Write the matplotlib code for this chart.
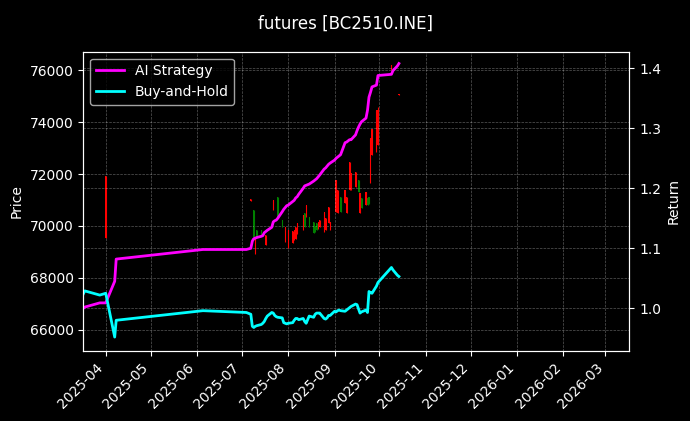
import matplotlib
matplotlib.use("Agg")
import matplotlib.pyplot as plt
import matplotlib.dates as mdates
import numpy as np
import pandas as pd

# candlestick data (price axis)
candle_dates = ["2025-04-01", "2025-07-07", "2025-07-09", "2025-07-10", "2025-07-11",
                "2025-07-14", "2025-07-17", "2025-07-22", "2025-07-25", "2025-07-28",
                "2025-07-30", "2025-08-01", "2025-08-04", "2025-08-05", "2025-08-06",
                "2025-08-07", "2025-08-11", "2025-08-12", "2025-08-13", "2025-08-15",
                "2025-08-18", "2025-08-19", "2025-08-20", "2025-08-21", "2025-08-22",
                "2025-08-25", "2025-08-26", "2025-08-28", "2025-08-29", "2025-09-02",
                "2025-09-03", "2025-09-05", "2025-09-08", "2025-09-09", "2025-09-11",
                "2025-09-12", "2025-09-15", "2025-09-17", "2025-09-18", "2025-09-19",
                "2025-09-22", "2025-09-23", "2025-09-24", "2025-09-25", "2025-09-26",
                "2025-09-29", "2025-09-30", "2025-10-09", "2025-10-14"]
opens = [69530, 70980, 70615, 68920, 69850,
         69850, 69270, 70615, 71130, 70230,
         69400, 69140, 69350, 69450, 69500,
         69700, 69850, 70490, 70360, 70360,
         70170, 70000, 70100, 69900, 69970,
         69780, 69850, 70100, 69850, 70550,
         70490, 71130, 70880, 70490, 71380,
         71380, 71500, 71770, 70490, 71060,
         70810, 71060, 71100, 71650, 72730,
         72850, 73110, 76000, 75030]
closes = [71920, 71030, 69590, 69590, 69590,
          69600, 69650, 71000, 70300, 69970,
          69970, 69850, 69800, 69850, 69950,
          70100, 70420, 69970, 70810, 69970,
          69720, 69750, 69850, 70150, 70230,
          70550, 70300, 70740, 70170, 71770,
          71380, 70550, 71380, 71130, 72470,
          72020, 72090, 71320, 71260, 70680,
          71320, 70810, 70850, 73380, 73750,
          74460, 74460, 76200, 75070]
highs = [71920, 71030, 70615, 69590, 69850,
         69850, 69650, 71000, 71130, 70230,
         69970, 69850, 69800, 69850, 69950,
         70100, 70420, 70490, 70810, 70360,
         70170, 70000, 70100, 70150, 70230,
         70550, 70300, 70740, 70170, 71770,
         71380, 71130, 71380, 71130, 72470,
         72020, 72090, 71770, 71260, 71060,
         71320, 71060, 71100, 73380, 73750,
         74460, 74560, 76200, 75070]
lows = [69530, 70980, 69590, 68920, 69590,
        69600, 69270, 70615, 70300, 69970,
        69400, 69140, 69350, 69450, 69500,
        69700, 69850, 69970, 70360, 69970,
        69720, 69750, 69850, 69900, 69970,
        69780, 69850, 70100, 69850, 70550,
        70490, 70550, 70880, 70490, 71380,
        71380, 71500, 71320, 70490, 70680,
        70810, 70810, 70850, 71650, 72730,
        72850, 73110, 76000, 75030]

# cumulative returns (return axis)
ret_dates = ["2025-03-17", "2025-03-18", "2025-03-28", "2025-04-01", "2025-04-07", "2025-04-08",
             "2025-06-05", "2025-07-04",
             "2025-07-07", "2025-07-08", "2025-07-09", "2025-07-10", "2025-07-11",
             "2025-07-14", "2025-07-15", "2025-07-16", "2025-07-17", "2025-07-18",
             "2025-07-21", "2025-07-22", "2025-07-23", "2025-07-24", "2025-07-25",
             "2025-07-28", "2025-07-29", "2025-07-30", "2025-07-31", "2025-08-01",
             "2025-08-04", "2025-08-05", "2025-08-06", "2025-08-07", "2025-08-08",
             "2025-08-11", "2025-08-12", "2025-08-13", "2025-08-14", "2025-08-15",
             "2025-08-18", "2025-08-19", "2025-08-20", "2025-08-21", "2025-08-22",
             "2025-08-25", "2025-08-26", "2025-08-27", "2025-08-28", "2025-08-29",
             "2025-09-01", "2025-09-02", "2025-09-03", "2025-09-04", "2025-09-05",
             "2025-09-08", "2025-09-09", "2025-09-10", "2025-09-11", "2025-09-12",
             "2025-09-15", "2025-09-16", "2025-09-17", "2025-09-18", "2025-09-19",
             "2025-09-22", "2025-09-23", "2025-09-24", "2025-09-25", "2025-09-26",
             "2025-09-29", "2025-09-30", "2025-10-09", "2025-10-10", "2025-10-13",
             "2025-10-14"]
ai_strategy = [1.000, 1.002, 1.009, 1.009, 1.045, 1.082,
               1.098, 1.098,
               1.100, 1.112, 1.116, 1.117, 1.118,
               1.120, 1.121, 1.126, 1.128, 1.130,
               1.135, 1.144, 1.146, 1.147, 1.150,
               1.161, 1.165, 1.168, 1.171, 1.172,
               1.178, 1.180, 1.184, 1.186, 1.190,
               1.200, 1.204, 1.205, 1.206, 1.207,
               1.212, 1.214, 1.216, 1.219, 1.222,
               1.232, 1.234, 1.237, 1.240, 1.242,
               1.247, 1.250, 1.252, 1.254, 1.256,
               1.276, 1.277, 1.279, 1.281, 1.281,
               1.289, 1.296, 1.302, 1.307, 1.311,
               1.317, 1.330, 1.352, 1.360, 1.369,
               1.372, 1.388, 1.390, 1.396, 1.404,
               1.408]
buy_and_hold = [1.024, 1.029, 1.022, 1.025, 0.952, 0.980,
                0.996, 0.993,
                0.990, 0.970, 0.968, 0.970, 0.971,
                0.973, 0.975, 0.978, 0.983, 0.987,
                0.993, 0.992, 0.988, 0.986, 0.985,
                0.984, 0.976, 0.975, 0.974, 0.975,
                0.976, 0.980, 0.983, 0.983, 0.981,
                0.983, 0.978, 0.975, 0.981, 0.987,
                0.985, 0.990, 0.992, 0.992, 0.992,
                0.983, 0.982, 0.984, 0.988, 0.988,
                0.995, 0.994, 0.996, 0.997, 0.996,
                0.995, 0.997, 0.999, 1.001, 1.003,
                1.007, 1.006, 0.999, 0.992, 0.994,
                0.997, 0.993, 1.028, 1.026, 1.025,
                1.037, 1.043, 1.068, 1.064, 1.055,
                1.053]

plt.style.use("dark_background")
fig, ax1 = plt.subplots(figsize=(6.9, 4.21), dpi=100)
fig.subplots_adjust(left=0.1207, right=0.912, top=0.8772, bottom=0.167)

cd = pd.to_datetime(candle_dates)
o = np.array(opens)
c = np.array(closes)
colors = np.where(c >= o, "red", "green")

# wicks and bodies
ax1.vlines(cd, lows, highs, colors=colors, linewidth=0.8)
ax1.bar(cd, np.abs(c - o), bottom=np.minimum(o, c), width=0.8, color=colors)
ax1.set_ylabel("Price")
ax1.set_ylim(65204, 76704)
ax1.grid(True, linestyle="--", linewidth=0.5, alpha=0.35)

ax2 = ax1.twinx()
rd = pd.to_datetime(ret_dates)
ax2.plot(rd, ai_strategy, color="magenta", linewidth=2, label="AI Strategy")
ax2.plot(rd, buy_and_hold, color="cyan", linewidth=2, label="Buy-and-Hold")
ax2.set_ylabel("Return")
ax2.set_ylim(0.9293, 1.4277)
ax2.set_yticks([1.0, 1.1, 1.2, 1.3, 1.4])
ax2.grid(True, linestyle="--", linewidth=0.5, alpha=0.35)
ax2.legend(loc="upper left")

ax1.set_xlim(pd.Timestamp("2025-03-17"), pd.Timestamp("2026-03-17"))
ax1.xaxis.set_major_locator(mdates.MonthLocator())
ax1.xaxis.set_major_formatter(mdates.DateFormatter("%Y-%m"))
plt.setp(ax1.get_xticklabels(), rotation=45, ha="right")

fig.suptitle("futures [BC2510.INE]", fontsize=12, y=0.965)

fig.savefig("out.png", dpi=100)
